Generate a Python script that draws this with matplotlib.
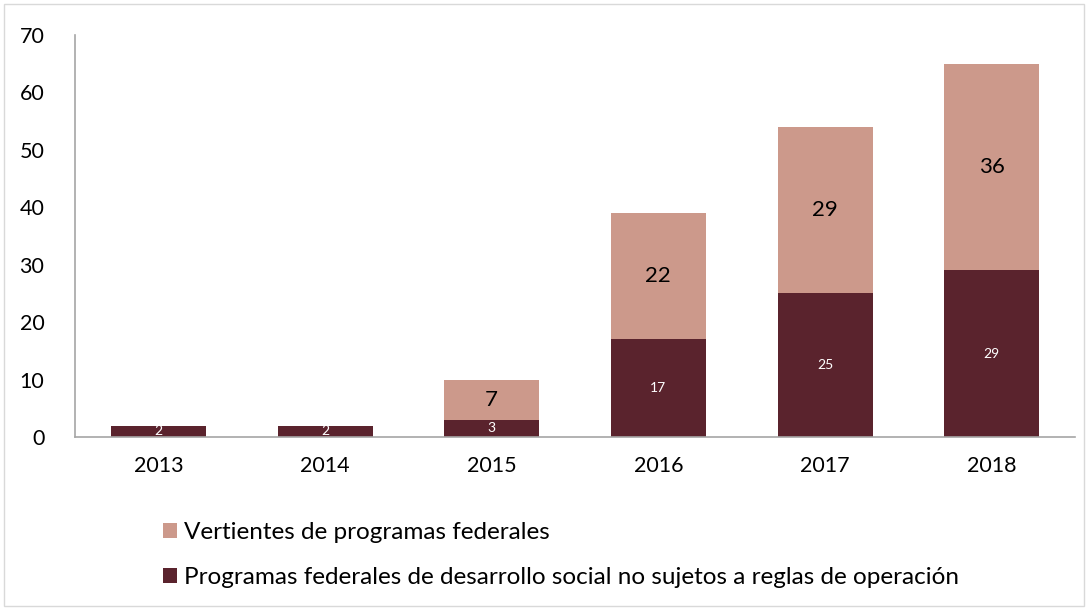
import matplotlib
matplotlib.use("Agg")
import matplotlib.pyplot as plt
from matplotlib.patches import Rectangle

years = ["2013", "2014", "2015", "2016", "2017", "2018"]
no_sujetos = [2, 2, 3, 17, 25, 29]
vertientes = [0, 0, 7, 22, 29, 36]
label_no_sujetos = "Programas federales de desarrollo social no sujetos a reglas de operación"
label_vertientes = "Vertientes de programas federales"

dark = "#5a232d"
light = "#cc998b"

plt.rcParams['font.family'] = ['Lato', 'DejaVu Sans']

fig = plt.figure(figsize=(10.88, 6.10), dpi=100)
ax = fig.add_axes([75/1088, 1 - 437/610, 1000/1088, 402/610])

x = list(range(len(years)))
b1 = ax.bar(x, no_sujetos, width=0.57, color=dark, label=label_no_sujetos)
b2 = ax.bar(x, vertientes, width=0.57, bottom=no_sujetos, color=light, label=label_vertientes)

for i in x:
    ax.text(i, no_sujetos[i] / 2, str(no_sujetos[i]), ha='center', va='center',
            color='white', fontsize=10)
    if vertientes[i] > 0:
        ax.text(i, no_sujetos[i] + vertientes[i] / 2, str(vertientes[i]), ha='center',
                va='center', color='black', fontsize=16)

ax.set_xlim(-0.5, len(years) - 0.5)
ax.set_ylim(0, 70)
ax.set_yticks(range(0, 71, 10))
ax.set_xticks(x)
ax.set_xticklabels(years)
ax.tick_params(axis='both', length=0, labelsize=15.5)
ax.tick_params(axis='x', pad=14)
ax.tick_params(axis='y', pad=22)
for s in ['top', 'right']:
    ax.spines[s].set_visible(False)
for s in ['left', 'bottom']:
    ax.spines[s].set_color('#a6a6a6')
    ax.spines[s].set_linewidth(1.2)

leg = fig.legend(handles=[b2, b1], labels=[label_vertientes, label_no_sujetos],
                 loc='upper left', bbox_to_anchor=(151/1088, 1 - 510/610),
                 frameon=False, fontsize=17.5, handlelength=0.55, handleheight=0.55,
                 handletextpad=0.3, labelspacing=0.98, borderpad=0)

fig.patches.append(Rectangle((4/1088, 4/610), 1 - 8/1088, 1 - 8/610, transform=fig.transFigure,
                             fill=False, edgecolor='#d9d9d9', linewidth=1))

fig.savefig("out.png", dpi=100)
